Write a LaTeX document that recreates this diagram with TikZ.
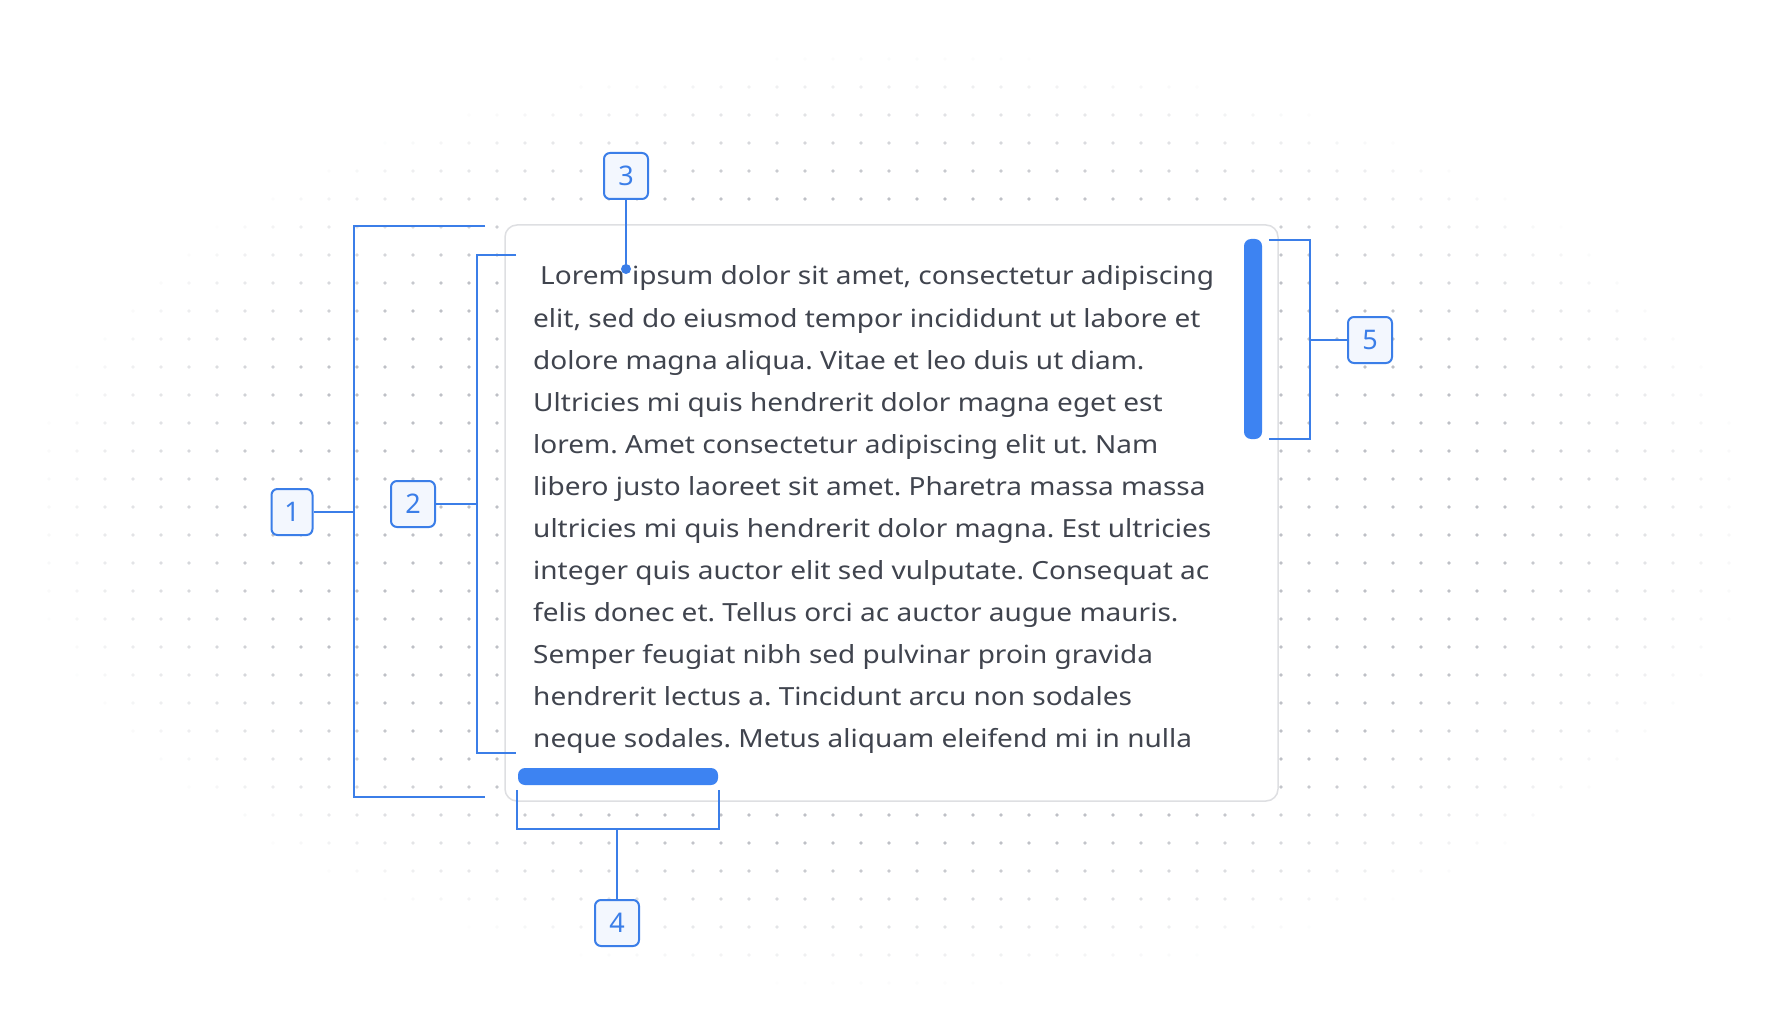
\documentclass[tikz,border=0pt]{standalone}
\usepackage{fontspec}
\setmainfont{Noto Sans}[FakeStretch=1.12]
\newfontfamily\numfont{Noto Sans}
\usetikzlibrary{positioning}

\definecolor{markblue}{RGB}{59,126,232}
\definecolor{barblue}{RGB}{61,131,242}
\definecolor{boxfill}{RGB}{243,247,254}
\definecolor{textgray}{RGB}{64,68,78}
\definecolor{dotgray}{RGB}{190,192,198}
\definecolor{framegray}{RGB}{222,223,226}

\begin{document}
\frenchspacing
\begin{tikzpicture}[x=1pt,y=-1pt,
  num/.style={draw=markblue,line width=2pt,fill=boxfill,rounded corners=6pt,text=markblue,
    minimum width=44pt,minimum height=46pt,inner sep=0pt,font=\numfont\fontsize{27}{27}\selectfont},
  brk/.style={draw=markblue,line width=2pt},
  bar/.style={fill=barblue,rounded corners=7pt,inner sep=0pt},
  para/.style={anchor=base west,inner sep=0pt,text=textgray,font=\fontsize{25}{42}\selectfont}]
\useasboundingbox[fill=white] (0,0) rectangle (1780,1024);

% dotted backdrop, fading out
\foreach \i in {0,...,63}{
  \foreach \j in {0,...,36}{
    \pgfmathsetmacro\op{max(0,min(1,(1-sqrt(((21+28*\i-890)/870)^2+((3+28*\j-520)/470)^2))/0.3))}
    \ifdim\op pt>0.02pt
      \fill[dotgray,opacity=\op] (21+28*\i,3+28*\j) circle (1.8);
    \fi
  }
}

% text area and scroll bars
\node[draw=framegray,line width=1.5pt,fill=white,rounded corners=12pt,inner sep=0pt,
  minimum width=773pt,minimum height=576pt] (frame) at (891.5,513) {};
\node[bar,minimum width=18pt,minimum height=200pt] (vbar) at (1253,339) {};
\node[bar,minimum width=200pt,minimum height=17pt] (hbar) at (618,776.5) {};

\foreach \txt [count=\n] in {
  {\hspace*{7pt}Lorem ipsum dolor sit amet, consectetur adipiscing},
  {elit, sed do eiusmod tempor incididunt ut labore et},
  {dolore magna aliqua. Vitae et leo duis ut diam.},
  {Ultricies mi quis hendrerit dolor magna eget est},
  {lorem. Amet consectetur adipiscing elit ut. Nam},
  {libero justo laoreet sit amet. Pharetra massa massa},
  {ultricies mi quis hendrerit dolor magna. Est ultricies},
  {integer quis auctor elit sed vulputate. Consequat ac},
  {felis donec et. Tellus orci ac auctor augue mauris.},
  {Semper feugiat nibh sed pulvinar proin gravida},
  {hendrerit lectus a. Tincidunt arcu non sodales},
  {neque sodales. Metus aliquam eleifend mi in nulla}}
  \node[para] (line\n) at (533,243+42*\n) {\txt};

% numbered markers
\node[num,minimum width=41pt] (n1) at (292,512) {1};
\node[num] (n2) at (413,504) {2};
\node[num] (n3) at (626,176) {3};
\node[num] (n4) at (617,923) {4};
\node[num] (n5) at (1370,340) {5};

% brackets
\coordinate (b1t) at (485,226);
\coordinate (b1b) at (485,797);
\coordinate (b1m) at (354,512);
\coordinate (b2t) at (516,255);
\coordinate (b2b) at (516,753);
\coordinate (b2m) at (477,504);
\coordinate (dot) at (626,269);
\coordinate (b4l) at (517,790);
\coordinate (b4r) at (719,790);
\coordinate (b4m) at (617,829);
\coordinate (b5t) at (1269,240);
\coordinate (b5b) at (1269,439);
\coordinate (b5m) at (1310,340);

\draw[brk] (b1t) -- ++(-131,0) |- (b1b);
\draw[brk] (n1) -- (b1m);
\draw[brk] (b2t) -- ++(-39,0) |- (b2b);
\draw[brk] (n2) -- (b2m);
\draw[brk] (n3) -- (dot);
\fill[markblue] (dot) circle (5);
\draw[brk] (b4l) -- ++(0,39) -| (b4r);
\draw[brk] (b4m) -- (n4);
\draw[brk] (b5t) -- ++(41,0) |- (b5b);
\draw[brk] (b5m) -- (n5);
\end{tikzpicture}
\end{document}
